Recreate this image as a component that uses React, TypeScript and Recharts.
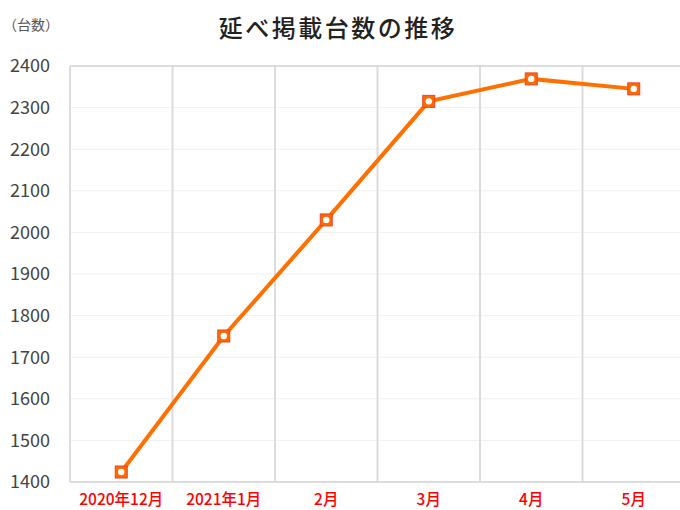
import React from "react";
import {
  LineChart,
  Line,
  XAxis,
  YAxis,
  CartesianGrid,
  ReferenceLine,
} from "recharts";

const months = ["2020年12月", "2021年1月", "2月", "3月", "4月", "5月"];
const listings = [1424, 1751, 2030, 2315, 2369, 2345];
const yTicks = [1400, 1500, 1600, 1700, 1800, 1900, 2000, 2100, 2200, 2300, 2400];
const bandEdges = [0, 1, 2, 3, 4, 5, 6];

const data = months.map((month, i) => ({ month, value: listings[i], pos: i + 0.5 }));

const FONT = '"Noto Sans CJK JP", "Noto Sans", sans-serif';

const SquareDot = (props: any) => {
  const { cx, cy, index } = props;
  if (cx == null || cy == null) return null;
  return (
    <g key={`dot-${index}`}>
      <rect x={cx - 6} y={cy - 6} width={12} height={12} fill="#ff6a00" stroke="#e8442e" strokeWidth={1} />
      <circle cx={cx} cy={cy} r={3.2} fill="#fff" />
    </g>
  );
};

const App = () => {
  return (
    <div
      style={{
        position: "absolute",
        left: 0,
        top: 0,
        width: 680,
        height: 510,
        overflow: "hidden",
        background: "#fff",
        fontFamily: FONT,
      }}
    >
      <div
        style={{
          position: "absolute",
          left: 0,
          width: 680,
          top: 9,
          textAlign: "center",
          fontSize: 24,
          letterSpacing: 2.5,
          fontWeight: 500,
          color: "#222",
          paddingRight: 4,
          boxSizing: "border-box",
        }}
      >
        延べ掲載台数の推移
      </div>
      <div style={{ position: "absolute", left: 3, top: 14, fontSize: 14, color: "#555" }}>
        （台数）
      </div>
      <LineChart
        width={700}
        height={510}
        data={data}
        margin={{ top: 66, right: 15, bottom: 0, left: 0 }}
      >
        <CartesianGrid horizontal stroke="#f0f0f0" vertical={false} />
        <XAxis xAxisId="grid" type="number" dataKey="pos" domain={[0, 6]} ticks={bandEdges} hide />
        <CartesianGrid
          xAxisId="grid"
          horizontal={false}
          vertical
          stroke="#dcdcdc"
          strokeWidth={2}
        />
        <XAxis
          dataKey="month"
          scale="band"
          height={28}
          tickLine={false}
          axisLine={{ stroke: "#dcdcdc", strokeWidth: 2 }}
          tickMargin={6}
          interval={0}
          tick={{ fill: "#ff0000", fontSize: 15.5, fontWeight: 500, fontFamily: FONT }}
        />
        <YAxis
          width={70}
          domain={[1400, 2400]}
          ticks={yTicks}
          tickLine={false}
          tickSize={0}
          tickMargin={20}
          axisLine={{ stroke: "#dcdcdc", strokeWidth: 2 }}
          tick={{ fill: "#444", fontSize: 18, fontFamily: FONT }}
        />
        <ReferenceLine y={2400} stroke="#d4d4d4" strokeWidth={1.5} />
        <Line
          type="linear"
          dataKey="value"
          stroke="#ff7000"
          strokeWidth={4}
          dot={SquareDot}
          activeDot={false}
          isAnimationActive={false}
        />
      </LineChart>
    </div>
  );
};

export default App;
